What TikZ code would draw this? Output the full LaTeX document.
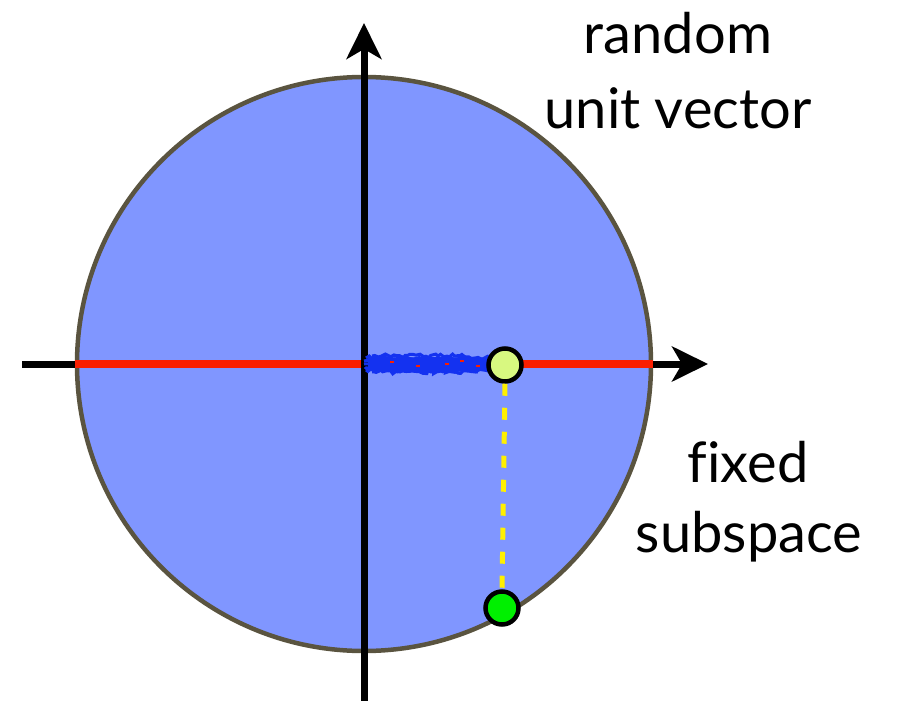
\documentclass[tikz,border=0pt]{standalone}
\usepackage{fontspec}
\setmainfont{Lato}[Ligatures=NoCommon]
\usetikzlibrary{arrows.meta,decorations.pathmorphing}
\definecolor{diskfill}{RGB}{128,150,255}
\definecolor{diskedge}{RGB}{90,84,64}
\definecolor{axisred}{RGB}{250,30,0}
\definecolor{scribble}{RGB}{20,50,240}
\definecolor{lightdot}{RGB}{216,248,128}
\definecolor{greendot}{RGB}{0,240,0}
\definecolor{dashyellow}{RGB}{255,240,0}
\tikzset{
  axis/.style={line width=7pt, draw=black, -{Stealth[length=36pt,width=35pt,inset=10pt]}},
  redline/.style={line width=8pt, draw=axisred},
  dot/.style={circle, draw=black, line width=4.5pt, minimum size=33pt, inner sep=0pt},
  lbl/.style={font=\fontsize{56}{60}\selectfont, anchor=base, inner sep=0pt},
  rough/.style={draw=scribble, line width=3pt, decorate, decoration={random steps, segment length=3pt, amplitude=2pt}},
}
\begin{document}
\begin{tikzpicture}[x=1pt,y=-1pt]
\useasboundingbox (0,0) rectangle (897,701);
\pgfmathsetseed{7}
\coordinate (O) at (364,364);
\node[circle, fill=diskfill, draw=diskedge, line width=4.5pt, minimum size=574pt, inner sep=0pt] (disk) at (O) {};
\coordinate (xl) at (22,364);
\coordinate (xr) at (708,364);
\coordinate (yb) at (364,701);
\coordinate (yt) at (364,23);
\draw[axis] (xl) -- (xr);
\draw[redline] (disk.west) -- (disk.east);
\draw[axis] (yb) -- (yt);
% blue scribble
\fill[scribble] (368,358) -- (440,357) -- (492,358) -- (496,364) -- (492,371) -- (430,372) -- (368,371) -- cycle;
\foreach \yy/\xa/\xb in {356/372/470, 358/366/494, 361/364/497, 364/364/497, 367/365/496, 370/366/494, 372/372/478}
  \draw[rough] (\xa,\yy) -- (\xb,\yy);
\foreach \xx/\yy in {392/362, 418/366, 447/364, 462/361, 478/366, 505/362}
  \fill[axisred] (\xx-2,\yy-1) rectangle (\xx+2,\yy+1);
\node[dot, fill=lightdot] (p) at (505,365) {};
\node[dot, fill=greendot] (q) at (502,608) {};
\draw[dashyellow, line width=5pt, dash pattern=on 12pt off 12pt] (p.south) -- (q.north);
\node[lbl] (r1) at (678,54) {random};
\node[lbl] (r2) at (678,128) {unit vector};
\node[lbl] (f1) at (748,482) {fixed};
\node[lbl] (f2) at (749,552) {subspace};
\end{tikzpicture}
\end{document}
